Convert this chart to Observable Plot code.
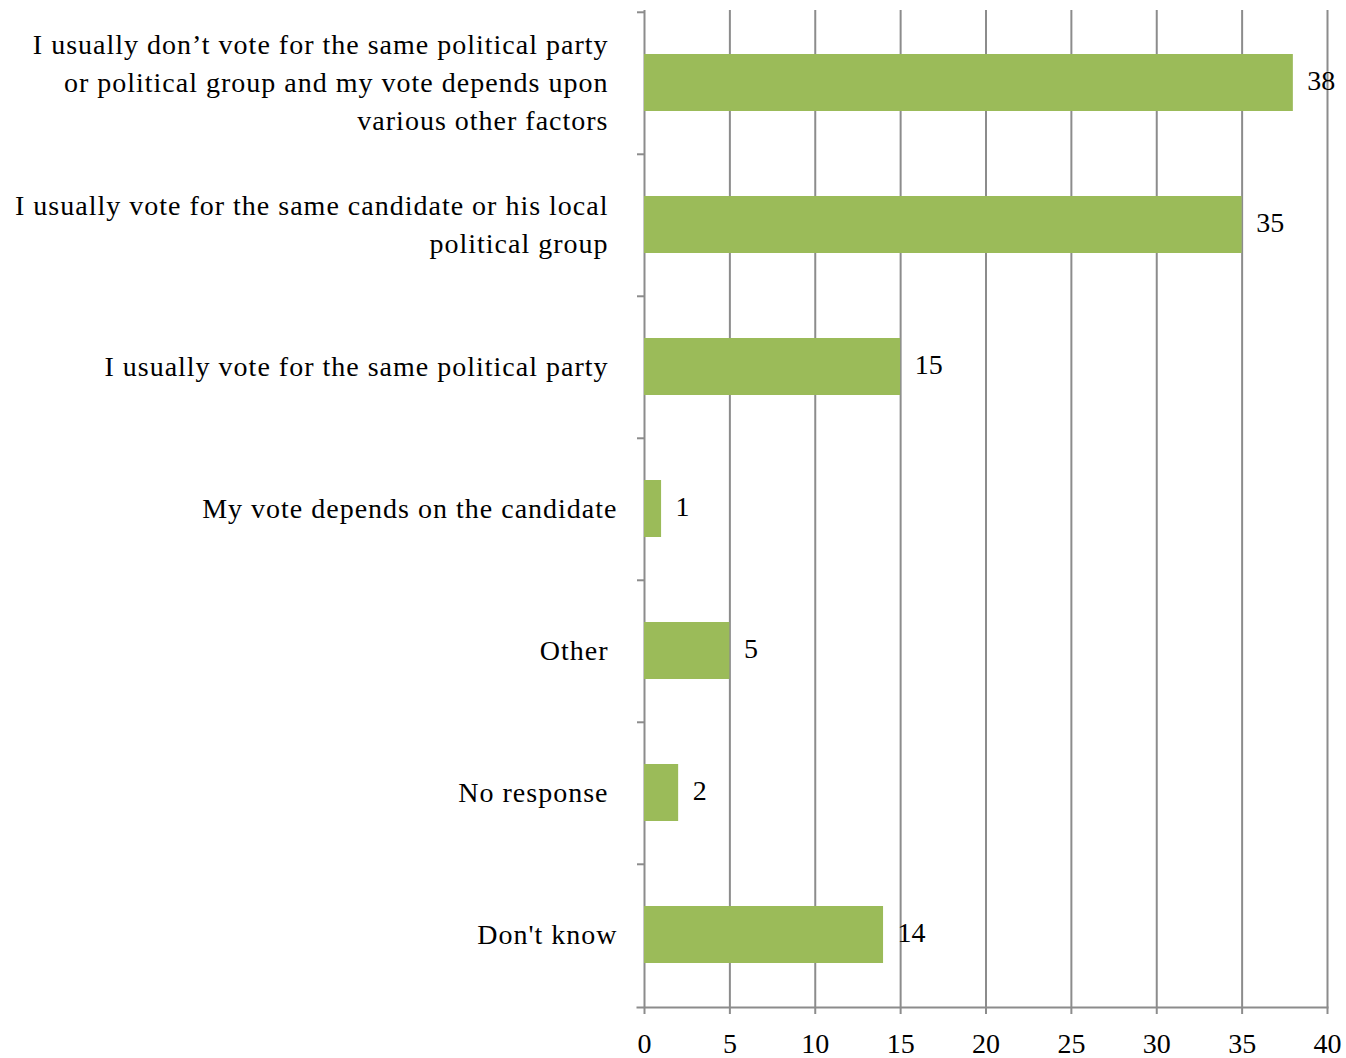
<!DOCTYPE html>
<html>
<head>
<meta charset="utf-8">
<script src="https://cdn.jsdelivr.net/npm/d3@7"></script>
<script src="https://cdn.jsdelivr.net/npm/@observablehq/plot@0.6"></script>
<style>
  html, body { margin: 0; padding: 0; background: #fff; }
  #chart svg { display: block; }
</style>
</head>
<body>
<div id="chart"></div>
<script>
const categories = [
  "I usually don\u2019t vote for the same political party\nor political group and my vote depends upon\nvarious other factors",
  "I usually vote for the same candidate or his local\npolitical group",
  "I usually vote for the same political party",
  "My vote depends on the candidate",
  "Other",
  "No response",
  "Don't know"
];
const values = [38, 35, 15, 1, 5, 2, 14];
const xTicks = [0, 5, 10, 15, 20, 25, 30, 35, 40];
// labels whose right edge sits slightly closer to the axis in the original
const closeLabels = ["My vote depends on the candidate", "Don't know"];

const data = categories.map((c, i) => ({category: c, value: values[i]}));

const W = 1346, H = 1058;
const mT = 10, mB = 51, mL = 644, mR = 19;
const step = (H - mT - mB) / categories.length;
const font = "'Liberation Serif', 'Times New Roman', serif";
const gridColor = "#8c8c8c";

const chart = Plot.plot({
  width: W,
  height: H,
  marginTop: mT,
  marginBottom: mB,
  marginLeft: mL,
  marginRight: mR,
  style: {fontFamily: font, fontSize: "27px", color: "#000", background: "#fff"},
  x: {domain: [0, 40], ticks: xTicks},
  y: {domain: categories, padding: 0, axis: null},
  marks: [
    Plot.gridX(xTicks, {stroke: gridColor, strokeOpacity: 1, strokeWidth: 2}),
    Plot.frame({anchor: "bottom", stroke: gridColor, strokeWidth: 2, insetLeft: -7}),
    Plot.axisX(xTicks, {tickSize: 7, tickPadding: 19, stroke: gridColor, strokeWidth: 2, fill: "#000", fontSize: 28, tickFormat: d => String(d), label: null}),
    Plot.axisY(categories, {tickSize: 7, stroke: gridColor, strokeWidth: 2, dy: -step / 2, tickFormat: () => "", label: null}),
    Plot.barX(data, {
      x: "value", y: "category", fill: "#9bbb59",
      insetTop: 42, insetBottom: 43
    }),
    Plot.text(data, {
      x: "value", y: "category", text: d => String(d.value),
      textAnchor: "start", dx: 14, dy: -2, fill: "#000", fontSize: 28
    }),
    Plot.text(data.filter(d => !closeLabels.includes(d.category)), {
      x: 0, y: "category", text: "category",
      textAnchor: "end", dx: -36, dy: -4, fill: "#000", fontSize: 28, lineHeight: 1.36
    }),
    Plot.text(data.filter(d => closeLabels.includes(d.category)), {
      x: 0, y: "category", text: "category",
      textAnchor: "end", dx: -27, dy: -4, fill: "#000", fontSize: 28, lineHeight: 1.36
    })
  ]
});
// widen category labels slightly to approximate the original Garamond face
const textGroups = chart.querySelectorAll('g[aria-label="text"]');
const n = textGroups.length;
[textGroups[n - 1], textGroups[n - 2]].forEach(g => g && g.setAttribute("letter-spacing", "1"));
document.getElementById("chart").appendChild(chart);
</script>
</body>
</html>
